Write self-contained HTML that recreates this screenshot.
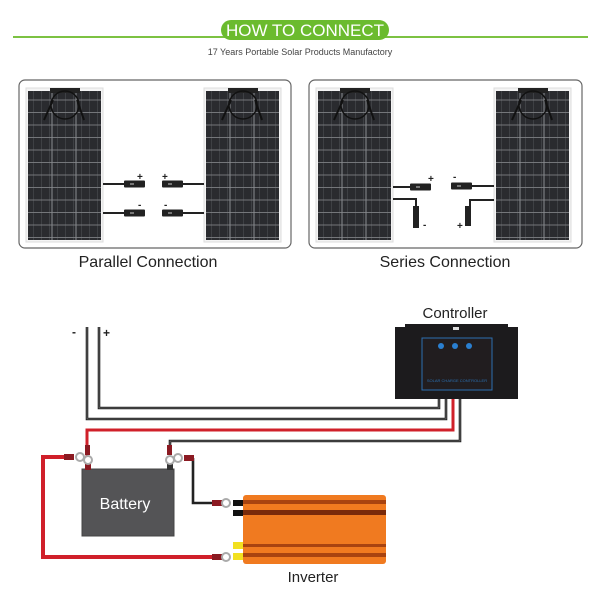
<!DOCTYPE html>
<html><head><meta charset="utf-8"><style>
html,body{margin:0;padding:0;background:#fff;}
svg{display:block;font-family:"Liberation Sans",sans-serif;}
</style></head><body>
<svg width="600" height="600" viewBox="0 0 600 600" xmlns="http://www.w3.org/2000/svg">
<defs>
<pattern id="cells" x="0" y="0" width="8" height="12.5" patternUnits="userSpaceOnUse">
<rect width="8" height="12.5" fill="#2a2b2f"/>
<line x1="7.5" y1="0" x2="7.5" y2="12.5" stroke="#46484c" stroke-width="0.7"/>
<line x1="0" y1="12" x2="8" y2="12" stroke="#7c7e82" stroke-width="0.9"/>
</pattern>
<g id="panel">
<rect x="0" y="0" width="77" height="154" fill="#f4f4f4" stroke="#ddd"/>
<rect x="2" y="3" width="73" height="149" fill="url(#cells)"/>
<line x1="26" y1="3" x2="26" y2="152" stroke="#8a8c90" stroke-width="1"/>
<line x1="50" y1="3" x2="50" y2="152" stroke="#8a8c90" stroke-width="1"/>
<rect x="24" y="0" width="30" height="5" fill="#222"/>
<circle cx="39" cy="17" r="14" fill="none" stroke="#111" stroke-width="1.5"/>
<path d="M27 12 L18 32 M51 12 L58 32" stroke="#111" stroke-width="2" fill="none"/>
</g>
<g id="conn"><rect x="0" y="-3.5" width="21" height="7" rx="1" fill="#222"/><rect x="6" y="-1" width="4" height="2" fill="#777"/></g>
</defs>
<!-- header -->
<line x1="13" y1="37" x2="588" y2="37" stroke="#7cc242" stroke-width="2"/>
<rect x="221" y="20" width="168" height="20" rx="10" fill="#6bbb2e"/>
<text x="305" y="36" text-anchor="middle" font-size="17" fill="#fff">HOW TO CONNECT</text>
<text x="300" y="55" text-anchor="middle" font-size="9" fill="#444">17 Years Portable Solar Products Manufactory</text>
<!-- boxes -->
<rect x="19" y="80" width="272" height="168" rx="6" fill="#fff" stroke="#666" stroke-width="1.2"/>
<rect x="309" y="80" width="273" height="168" rx="6" fill="#fff" stroke="#666" stroke-width="1.2"/>
<use href="#panel" x="26" y="88"/>
<use href="#panel" x="204" y="88"/>
<use href="#panel" x="316" y="88"/>
<use href="#panel" x="494" y="88"/>
<!-- parallel connectors -->
<g stroke="#222" stroke-width="2">
<line x1="103" y1="184" x2="126" y2="184"/><line x1="103" y1="213" x2="126" y2="213"/>
<line x1="180" y1="184" x2="204" y2="184"/><line x1="180" y1="213" x2="204" y2="213"/>
</g>
<use href="#conn" x="124" y="184"/><use href="#conn" x="124" y="213"/>
<use href="#conn" x="162" y="184"/><use href="#conn" x="162" y="213"/>
<g font-size="10" font-weight="bold" fill="#222">
<text x="137" y="180">+</text><text x="162" y="180">+</text>
<text x="138" y="208">-</text><text x="164" y="208">-</text>
</g>
<!-- series connectors -->
<g stroke="#222" stroke-width="2" fill="none">
<line x1="393" y1="187" x2="412" y2="187"/>
<line x1="472" y1="186" x2="494" y2="186"/>
<path d="M393 199 H416 V207"/>
<path d="M494 200 H470 V207"/>
</g>
<use href="#conn" x="410" y="187"/><use href="#conn" x="451" y="186"/>
<rect x="413" y="206" width="6" height="22" fill="#222"/>
<rect x="465" y="206" width="6" height="20" fill="#222"/>
<g font-size="10" font-weight="bold" fill="#222">
<text x="428" y="182">+</text><text x="453" y="180">-</text>
<text x="423" y="228">-</text><text x="457" y="229">+</text>
</g>
<text x="148" y="267" text-anchor="middle" font-size="16" fill="#222">Parallel Connection</text>
<text x="445" y="267" text-anchor="middle" font-size="16" fill="#222">Series Connection</text>
<!-- wiring -->
<g fill="none" stroke-linejoin="miter">
<g stroke="#222" stroke-width="2.6">
<path d="M99 327 V408 H439 V398"/>
<path d="M87 327 V419 H446 V398"/>
<path d="M170 455 V441 H460 V398"/>
<path d="M193 458 V503 H212"/>
</g>
<g stroke="#888" stroke-width="0.6">
<path d="M99 327 V408 H439 V398"/>
<path d="M87 327 V419 H446 V398"/>
<path d="M170 455 V441 H460 V398"/>
</g>
<path d="M87 458 V430 H453 V398" stroke="#d0202a" stroke-width="3"/>
<path d="M68 457 H43 V557 H212" stroke="#d0202a" stroke-width="4"/>
</g>
<text x="72" y="336" font-size="12" font-weight="bold" fill="#222">-</text>
<text x="103" y="337" font-size="12" font-weight="bold" fill="#222">+</text>
<!-- controller -->
<text x="455" y="318" text-anchor="middle" font-size="15" fill="#222">Controller</text>
<rect x="395" y="327" width="123" height="72" fill="#1c1b1d"/>
<rect x="405" y="324" width="103" height="6" fill="#1c1b1d"/>
<rect x="422" y="338" width="70" height="52" fill="#211d1f" stroke="#2d6fb0" stroke-width="1"/>
<circle cx="441" cy="346" r="3" fill="#2a7fd0"/><circle cx="455" cy="346" r="3" fill="#2a7fd0"/><circle cx="469" cy="346" r="3" fill="#2a7fd0"/>
<text x="457" y="382" text-anchor="middle" font-size="4" fill="#2a6fb0">SOLAR CHARGE CONTROLLER</text>
<rect x="453" y="327" width="6" height="3" fill="#ddd"/>
<!-- battery -->
<rect x="82" y="469" width="92" height="67" fill="#545456" stroke="#444"/>
<text x="125" y="509" text-anchor="middle" font-size="16" fill="#fff">Battery</text>
<rect x="85" y="463" width="6" height="7" fill="#8b1a22"/>
<rect x="167" y="463" width="6" height="7" fill="#333"/>
<circle cx="80" cy="457" r="4" fill="#fff" stroke="#aaa" stroke-width="2"/>
<circle cx="88" cy="460" r="4" fill="#fff" stroke="#aaa" stroke-width="2"/>
<circle cx="170" cy="460" r="4" fill="#fff" stroke="#aaa" stroke-width="2"/>
<circle cx="178" cy="458" r="4" fill="#fff" stroke="#aaa" stroke-width="2"/>
<rect x="64" y="454" width="10" height="6" fill="#8b1a22"/>
<rect x="184" y="455" width="10" height="6" fill="#8b1a22"/>
<rect x="85" y="445" width="5" height="10" fill="#8b1a22"/>
<rect x="167" y="445" width="5" height="10" fill="#8b1a22"/>
<!-- inverter -->
<rect x="243" y="495" width="143" height="69" rx="3" fill="#f07a20"/>
<rect x="243" y="500" width="143" height="4" fill="#a84310"/>
<rect x="243" y="510" width="143" height="5" fill="#7a2a0a"/>
<rect x="243" y="544" width="143" height="3" fill="#a84310"/>
<rect x="243" y="553" width="143" height="4" fill="#a84310"/>
<rect x="212" y="500" width="10" height="6" fill="#8b1a22"/>
<circle cx="226" cy="503" r="4" fill="#fff" stroke="#aaa" stroke-width="2"/>
<rect x="212" y="554" width="10" height="6" fill="#8b1a22"/>
<circle cx="226" cy="557" r="4" fill="#fff" stroke="#aaa" stroke-width="2"/>
<rect x="233" y="500" width="10" height="6" fill="#111"/>
<rect x="233" y="510" width="10" height="6" fill="#111"/>
<rect x="233" y="542" width="10" height="7" fill="#f2e020"/>
<rect x="233" y="553" width="10" height="7" fill="#f2e020"/>
<text x="313" y="582" text-anchor="middle" font-size="15" fill="#222">Inverter</text>
</svg>
</body></html>
